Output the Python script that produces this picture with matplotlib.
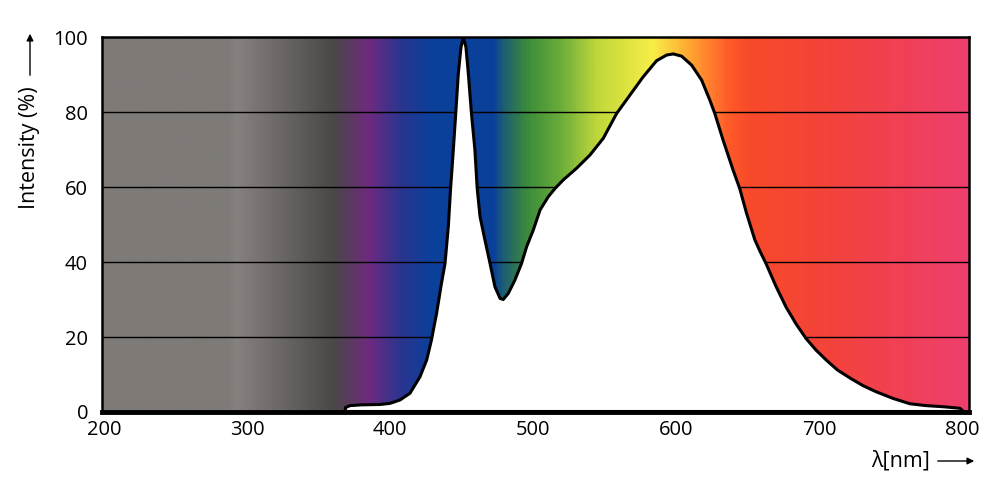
import numpy as np
import matplotlib
matplotlib.use('Agg')
import matplotlib.pyplot as plt
from matplotlib.colors import LinearSegmentedColormap
from matplotlib.patches import FancyArrowPatch

plt.rcParams['font.family'] = ['Open Sans', 'DejaVu Sans']

# spectrum (nm, %)
wavelength = [368.5, 369.0, 372, 380, 393, 400, 407, 414, 421, 425.7, 429, 432.6,
              436, 438.5, 440.8, 442.4, 444.3, 446, 447.8, 449.7, 451.3, 453.1,
              454.8, 457, 459.4, 461, 463, 466.4, 470, 473.4, 477, 479.2, 482.7,
              487.4, 492, 495.6, 500.2, 505, 510.7, 515.4, 521.2, 530.5, 539.8,
              549.2, 558.5, 567.8, 577.1, 586.5, 593.5, 598.1, 604, 611, 618,
              623.7, 627.2, 633, 640, 644.7, 649.4, 655.2, 659, 663, 670, 677, 684,
              691, 698, 705, 713, 722, 731, 740, 752, 763.6, 775, 787, 798.6, 800.7]
intensity = [0.0, 1.2, 1.7, 1.9, 2.0, 2.3, 3.2, 5.0, 9.4, 13.9, 19.2, 26.3,
             34.3, 39.6, 49.4, 59.6, 69.9, 79.6, 90.3, 97.4, 99.9, 97.4,
             90.3, 79.6, 69.9, 59.6, 52.1, 45.9, 39.6, 33.4, 30.3, 30.0, 31.6,
             35.2, 39.6, 44.1, 48.5, 53.9, 57.4, 59.6, 61.9, 65, 68.5,
             73, 79.6, 84.5, 89.4, 93.7, 95.2, 95.5, 94.9, 92.5, 88.5,
             83.2, 79.6, 72.5, 64.5, 59.5, 53, 45.9, 42.7, 39.6, 33.5, 28, 23.5,
             19.6, 16.5, 13.9, 11.2, 9, 7.0, 5.4, 3.6, 2.2, 1.7, 1.4, 1.0, 0.3]

x_ticks = [200, 300, 400, 500, 600, 700, 800]
y_ticks = [0, 20, 40, 60, 80, 100]

# background colour stops (nm, colour)
bg_stops = [(200, '#7e7a77'), (286, '#7e7a77'), (292, '#86817f'), (360, '#4b4747'),
            (384, '#6e2a7e'), (407, '#2a3590'), (428, '#0a409a'), (472, '#0a409a'),
            (480, '#1f6070'), (496, '#3c8c3a'), (519, '#6aac3a'), (545, '#c0d83a'),
            (584, '#f8ee48'), (612, '#ffa030'), (637, '#ff5a2a'), (652, '#f84a2a'),
            (706, '#f4433a'), (805, '#ee3f6e')]

xmin, xmax = 198.6, 805.0

fig = plt.figure(figsize=(10.07, 4.94), dpi=100)
ax = fig.add_axes([0.1013, 0.166, 0.861, 0.759])

pos = [(w - xmin) / (xmax - xmin) for w, c in bg_stops]
pos[0] = 0.0
pos[-1] = 1.0
cmap = LinearSegmentedColormap.from_list('spec', list(zip(pos, [c for w, c in bg_stops])))
grad = np.linspace(0, 1, 1200).reshape(1, -1)
ax.imshow(grad, cmap=cmap, extent=(xmin, xmax, 0, 100), aspect='auto', zorder=0)

for yv in y_ticks[1:-1]:
    ax.axhline(yv, color='black', lw=1.0, zorder=1)

ax.fill_between(wavelength, intensity, 0, color='white', lw=0, zorder=2)
ax.plot(wavelength, intensity, color='black', lw=2.2, zorder=3, solid_joinstyle='round')
ax.plot([wavelength[0], wavelength[-1]], [0.3, 0.3], color='black', lw=1.5, zorder=3)

ax.set_xlim(xmin, xmax)
ax.set_ylim(0, 100)
ax.set_xticks(x_ticks)
ax.set_yticks(y_ticks)
ax.tick_params(length=0, labelsize=14.5)
ax.tick_params(axis='x', pad=6)
ax.tick_params(axis='y', pad=10)
for s in ['left', 'right', 'top']:
    ax.spines[s].set_linewidth(1.8)
ax.spines['bottom'].set_linewidth(3.5)

# axis labels with arrows
fig.text(30 / 1007, 1 - 148 / 494, 'Intensity (%)', rotation=90, ha='center', va='center', fontsize=15.5)
fig.add_artist(FancyArrowPatch(
    (30 / 1007, 1 - 78 / 494), (30 / 1007, 1 - 31 / 494), transform=fig.transFigure,
    arrowstyle='-|>', mutation_scale=10, lw=1.0, color='black'))
fig.text(901 / 1007, 1 - 461 / 494, 'λ[nm]', ha='center', va='center', fontsize=15.5)
fig.add_artist(FancyArrowPatch(
    (935 / 1007, 1 - 461 / 494), (977 / 1007, 1 - 461 / 494), transform=fig.transFigure,
    arrowstyle='-|>', mutation_scale=10, lw=1.0, color='black'))

fig.savefig('out.png', dpi=100)
